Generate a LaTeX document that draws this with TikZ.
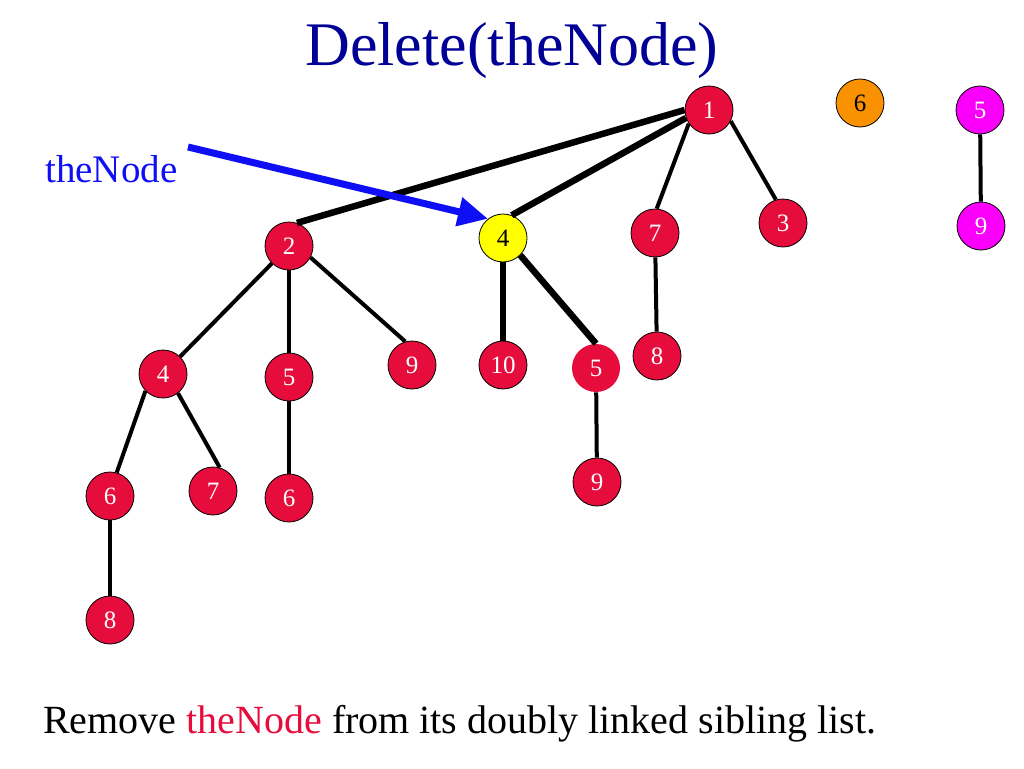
\documentclass[tikz,border=0pt]{standalone}
\usepackage{fontspec}
\setmainfont{Liberation Serif}
\usetikzlibrary{arrows.meta}
\definecolor{nred}{RGB}{230,12,60}
\definecolor{nyel}{RGB}{255,255,0}
\definecolor{norg}{RGB}{250,145,0}
\definecolor{nmag}{RGB}{250,0,250}
\definecolor{ttl}{RGB}{0,0,150}
\definecolor{arrblue}{RGB}{15,15,245}
\tikzset{
  tn/.style={circle, minimum size=48pt, inner sep=0pt, draw=black, line width=0.8pt, fill=nred, text=white, font=\fontsize{25}{25}\selectfont},
  tnplain/.style={tn, draw=none},
  yel/.style={tn, fill=nyel, text=black},
  org/.style={tn, fill=norg, text=black},
  mag/.style={tn, fill=nmag, text=white},
  edge/.style={line width=4pt, black},
  thickedge/.style={line width=6.5pt, black},
}
\begin{document}
\begin{tikzpicture}[x=1pt,y=-1pt]
\useasboundingbox (0,0) rectangle (1024,768);
% title
\node[anchor=base, text=ttl, font=\fontsize{62}{62}\selectfont, inner sep=0pt] (title) at (512,65) {Delete(theNode)};
% nodes
\node[tn]  (r1) at (709,110) {1};
\node[org] (o6) at (860,103) {6};
\node[mag] (m5) at (980,110) {5};
\node[mag] (m9) at (981,226) {9};
\node[tn]  (a2) at (289,246) {2};
\node[yel] (y4) at (503,238) {4};
\node[tn]  (a7) at (655,233) {7};
\node[tn]  (a3) at (783,223) {3};
\node[tn]  (b4) at (163,374) {4};
\node[tn]  (b5) at (289,377) {5};
\node[tn]  (b9) at (412,365) {9};
\node[tn]  (b10) at (503,365) {10};
\node[tnplain] (b5r) at (596,368) {5};
\node[tn]  (b8) at (657,356) {8};
\node[tn]  (c6) at (110,496) {6};
\node[tn]  (c7) at (213,491) {7};
\node[tn]  (c6b) at (289,498) {6};
\node[tn]  (c9) at (597,482) {9};
\node[tn]  (d8) at (110,620) {8};
% edges
\draw[thickedge] (r1.180) -- (a2.71);
\draw[thickedge] (r1.199) -- (y4.69);
\draw[edge] (r1.214) -- (a7.86);
\draw[edge] (r1.-27) -- (a3.107);
\draw[edge] (m5) -- (m9);
\draw[thickedge] (y4) -- (b10);
\draw[thickedge] (y4.-45) -- (b5r.90);
\draw[edge] (a7) -- (b8);
\draw[edge] (a2) -- (b4);
\draw[edge] (a2) -- (b5);
\draw[edge] (a2.-28) -- (b9.106);
\draw[edge] (b4.224) -- (c6.74);
\draw[edge] (b4.-52) -- (c7.74);
\draw[edge] (b5) -- (c6b);
\draw[edge] (b5r) -- (c9);
\draw[edge] (c6) -- (d8);
% pointer
\node[anchor=base west, text=arrblue, font=\fontsize{39}{39}\selectfont, inner sep=0pt] (lbl) at (45,182) {theNode};
\coordinate (astart) at (188,147);
\draw[arrblue, line width=7pt, -{Triangle[length=30pt,width=28pt]}] (astart) -- (y4.128);
% bottom text
\node[anchor=base west, font=\fontsize{40}{40}\selectfont, inner sep=0pt] (foot) at (43,733) {Remove \textcolor{nred}{theNode} from its doubly linked sibling list.};
\end{tikzpicture}
\end{document}
